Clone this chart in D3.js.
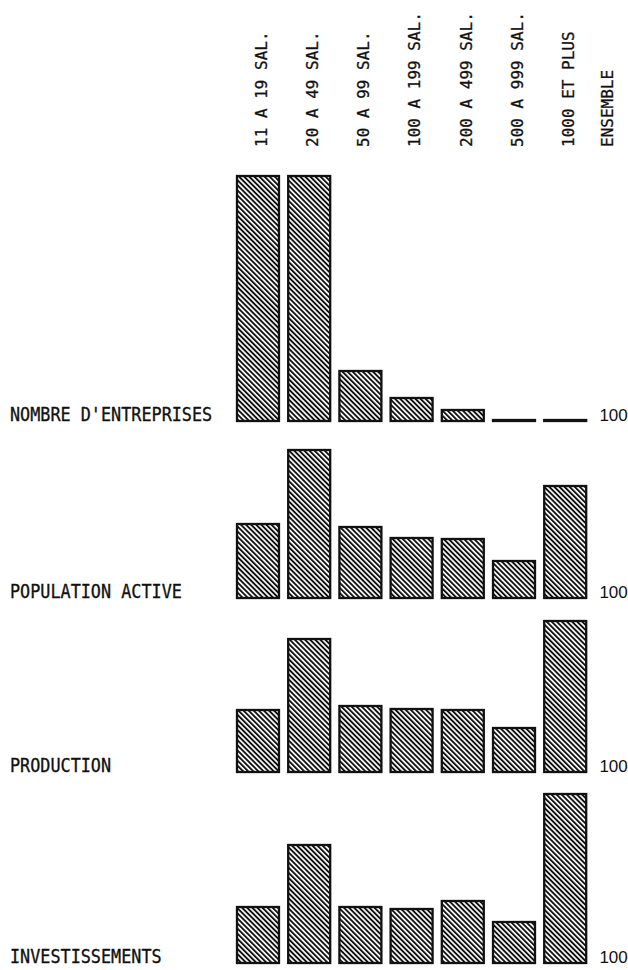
<!DOCTYPE html>
<html>
<head>
<meta charset="utf-8">
<script src="https://cdn.jsdelivr.net/npm/d3@7/dist/d3.min.js"></script>
<style>
  body { margin: 0; background: #fff; }
  svg { display: block; }
</style>
</head>
<body>
<svg id="chart" width="628" height="970"></svg>
<script>
// size classes (columns), last one is the reference column
var categories = ['11 A 19 SAL.', '20 A 49 SAL.', '50 A 99 SAL.', '100 A 199 SAL.',
  '200 A 499 SAL.', '500 A 999 SAL.', '1000 ET PLUS']
var refLabel = 'ENSEMBLE'
var refValue = '100'

// one row per indicator
var rowLabels = ['NOMBRE D\'ENTREPRISES', 'POPULATION ACTIVE', 'PRODUCTION', 'INVESTISSEMENTS']

// bar heights (index units)
var nombre = [245, 245, 50, 23, 11, 1, 1]
var population = [74, 148, 71, 60, 59, 37, 112]
var production = [62, 133, 66, 63, 62, 44, 151]
var investissements = [56, 118, 56, 54, 62, 41, 169]

var series = [nombre, population, production, investissements]

var svg = d3.select('#chart')

// hatch fill like the plotter drawing
var defs = svg.append('defs')
defs.append('pattern')
  .attr('id', 'hatch')
  .attr('patternUnits', 'userSpaceOnUse')
  .attr('width', 3.6)
  .attr('height', 3.6)
  .attr('patternTransform', 'rotate(-45)')
  .append('rect')
    .attr('x', 0)
    .attr('y', 0)
    .attr('width', 1.9)
    .attr('height', 3.6)
    .attr('fill', '#111')

// x positions of columns
var cols = categories.concat([refLabel])
var x = d3.scaleBand()
  .domain(cols)
  .range([237, 637.4])
  .paddingInner(0.18)
  .paddingOuter(0)

// same vertical scale for every row
var y = d3.scaleLinear().domain([0, 245]).range([0, 245])

// baselines of the four rows
var baselines = [421, 598, 772, 963]

var monoFont = '"DejaVu Sans Mono", monospace'

// column headings, rotated
svg.append('g').selectAll('text')
  .data(cols)
  .join('text')
    .attr('transform', function (d) {
      var cx = d === refLabel ? x(d) + 12 : x(d) + x.bandwidth() / 2 + 3
      return 'translate(' + cx + ',147) rotate(-90)'
    })
    .attr('dy', '0.36em')
    .attr('font-family', monoFont)
    .attr('font-size', 16)
    .attr('fill', '#111')
    .attr('stroke', '#111')
    .attr('stroke-width', 0.3)
    .text(function (d) { return d })

// rows
series.forEach(function (vals, i) {
  var base = baselines[i]
  var g = svg.append('g')

  g.selectAll('rect')
    .data(vals)
    .join('rect')
      .attr('x', function (d, j) { return x(categories[j]) })
      .attr('y', function (d) { return base - y(d) })
      .attr('width', x.bandwidth())
      .attr('height', function (d) { return y(d) })
      .attr('fill', 'url(#hatch)')
      .attr('stroke', '#111')
      .attr('stroke-width', 2.3)

  // row label, slightly stretched vertically
  g.append('text')
    .attr('transform', 'translate(10,' + base + ') scale(1,1.2)')
    .attr('font-family', monoFont)
    .attr('font-size', 16.8)
    .attr('fill', '#111')
    .attr('stroke', '#111')
    .attr('stroke-width', 0.3)
    .text(rowLabels[i])

  g.append('text')
    .attr('x', x(refLabel) + 4)
    .attr('y', base)
    .attr('font-family', '"Liberation Sans", Arial, sans-serif')
    .attr('font-size', 17)
    .attr('fill', '#111')
    .text(refValue)
})
</script>
</body>
</html>
